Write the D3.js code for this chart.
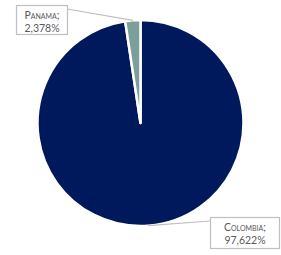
<!DOCTYPE html>
<html><head><meta charset="utf-8">
<script src="https://cdn.jsdelivr.net/npm/d3@7"></script>
<style>
html,body{margin:0;padding:0;background:#fff;}
svg{display:block;}
text{font-family:Lato,"Open Sans",sans-serif;fill:#595959;font-size:10.5px;}
</style></head>
<body>
<svg id="c" width="281" height="255"></svg>
<script>
const categories = ["Colombia", "Panama"];
const values = [97.622, 2.378];
const valueLabels = ["97,622%", "2,378%"];
const colors = ["#00195C", "#7C9F9C"];

const svg = d3.select("#c");
const cx = 140.5, cy = 123, r = 103;
const g = svg.append("g").attr("transform", `translate(${cx},${cy})`);

const pie = d3.pie().sort(null).value(d => d.v);
const data = pie(categories.map((c, i) => ({c, v: values[i], lab: valueLabels[i], col: colors[i]})));
const arc = d3.arc().innerRadius(0).outerRadius(r);

g.selectAll("path").data(data).join("path")
  .attr("d", arc)
  .attr("fill", d => d.data.col)
  .attr("stroke", "#fff")
  .attr("stroke-width", 2.5)
  .attr("stroke-linejoin", "round");

// label boxes (absolute positions)
const boxes = {
  "Colombia": {x: 210, y: 217, w: 69, h: 31, anchor: [210, 221]},
  "Panama":   {x: 16, y: 5, w: 51, h: 29, anchor: [67, 9]}
};

const outer = d3.arc().innerRadius(r).outerRadius(r);
data.forEach(d => {
  const b = boxes[d.data.c];
  const p = outer.centroid(d);
  svg.append("polyline")
    .attr("points", `${cx + p[0]},${cy + p[1]} ${b.anchor[0]},${b.anchor[1]}`)
    .attr("fill", "none").attr("stroke", "#BFBFBF").attr("stroke-width", 1.2);
  svg.append("rect")
    .attr("x", b.x + 0.5).attr("y", b.y + 0.5).attr("width", b.w).attr("height", b.h)
    .attr("fill", "#fff").attr("stroke", "#BFBFBF").attr("stroke-width", 1.2);
  const t = svg.append("text").attr("text-anchor", "middle");
  t.append("tspan").attr("x", b.x + b.w / 2 + 0.5).attr("y", b.y + 13.5)
    .style("font-variant", "small-caps").text(d.data.c + ";");
  t.append("tspan").attr("x", b.x + b.w / 2 + 0.5).attr("y", b.y + 26.5)
    .text(d.data.lab);
});
</script>
</body></html>
